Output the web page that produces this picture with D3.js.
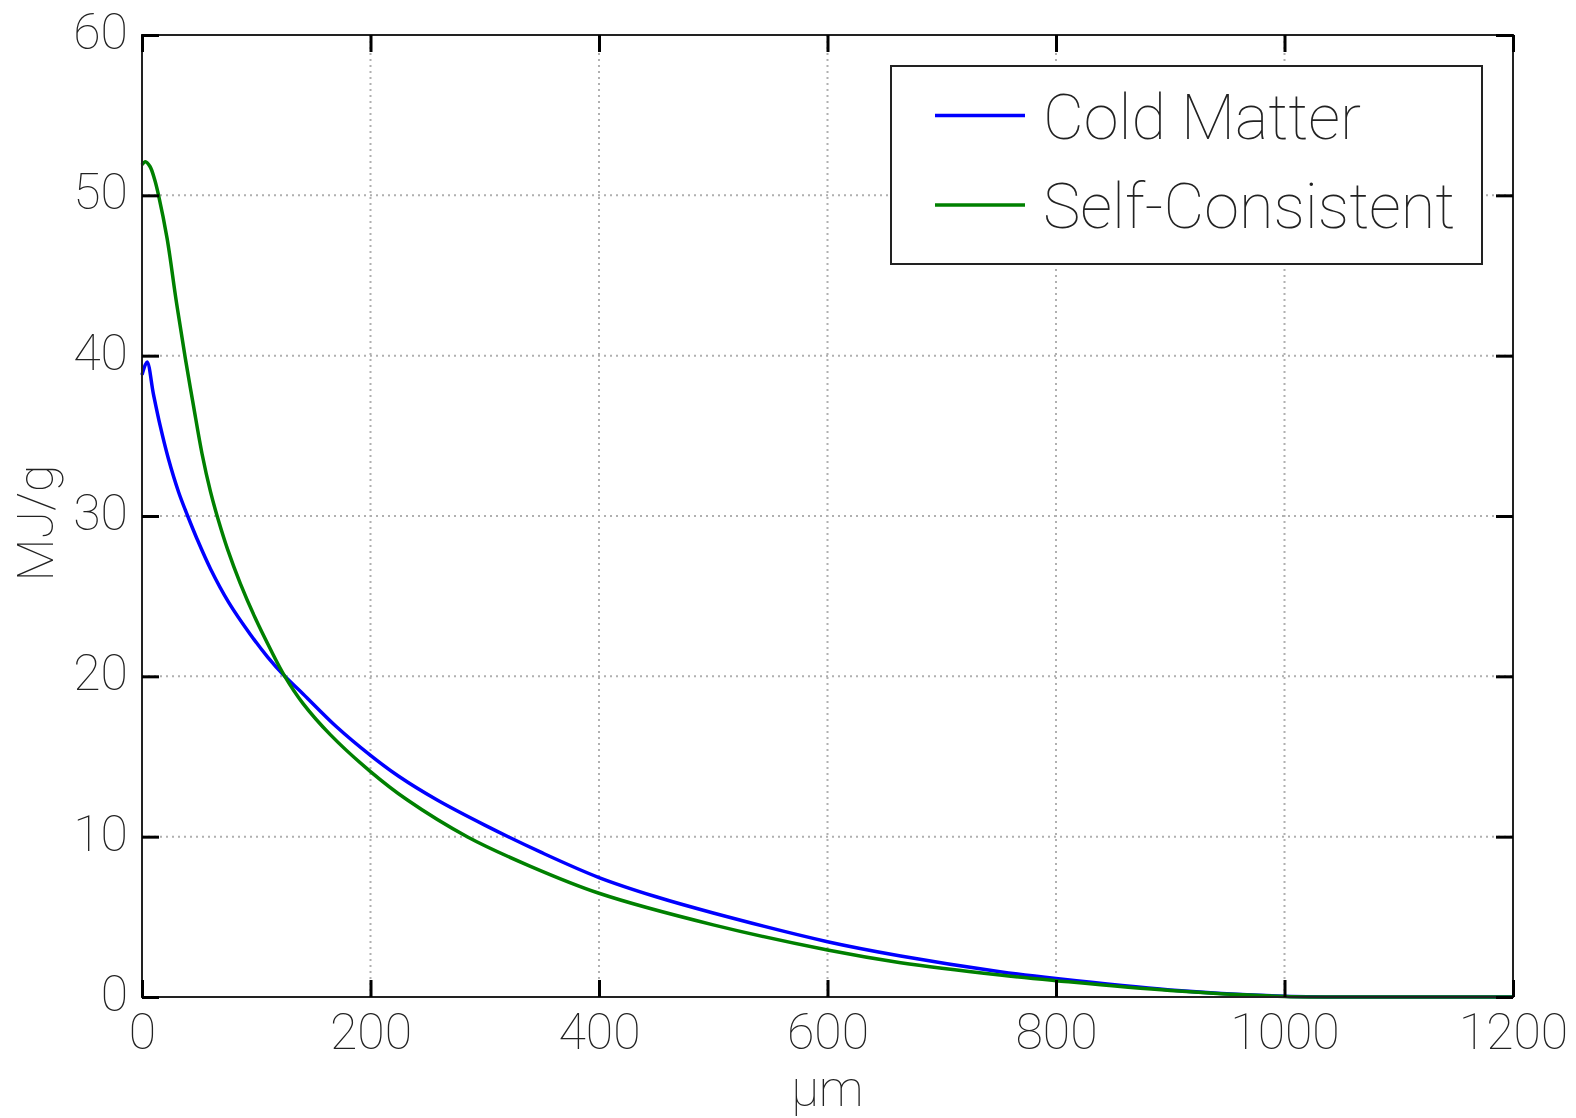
<!DOCTYPE html>
<html>
<head>
<meta charset="utf-8">
<script src="https://cdn.jsdelivr.net/npm/d3@7"></script>
<style>
  body { margin: 0; background: #fff; }
  svg text { font-family: Roboto, "Noto Sans", sans-serif; font-weight: 100; }
</style>
</head>
<body>
<div id="chart"></div>
<script>
// depth (um) and specific energy (MJ/g)
const coldX = [0, 4.4, 10, 16, 23, 32, 40, 48, 60, 76, 95, 110, 125, 141, 170, 200, 225, 258, 300, 350, 400, 450, 500, 600, 664, 751, 800, 900, 1000, 1100, 1200];
const coldY = [38.8, 39.6, 37.6, 35.6, 33.6, 31.5, 30.0, 28.6, 26.7, 24.6, 22.6, 21.2, 20.0, 18.9, 16.87, 15.07, 13.75, 12.3, 10.72, 9.0, 7.45, 6.25, 5.24, 3.45, 2.56, 1.58, 1.15, 0.44, 0.05, 0, 0];

const scX = [0, 3, 7, 11, 14.5, 22, 30, 38, 45, 52.5, 60, 67, 75, 86, 99, 112, 125, 141, 165, 200, 232, 285, 340, 400, 500, 600, 664, 751, 800, 900, 1000, 1100, 1200];
const scY = [51.9, 52.1, 51.8, 51.0, 50.0, 47.3, 43.4, 39.8, 36.9, 33.9, 31.5, 29.7, 27.9, 25.8, 23.65, 21.75, 20.0, 18.3, 16.35, 14.06, 12.3, 9.98, 8.15, 6.47, 4.5, 2.93, 2.14, 1.37, 1.02, 0.4, 0.03, 0, 0];

const xTicks = [0, 200, 400, 600, 800, 1000, 1200];
const yTicks = [0, 10, 20, 30, 40, 50, 60];
const seriesNames = ["Cold Matter", "Self-Consistent"];
const seriesColors = ["#0000ff", "#008000"];

function drawChart() {
    const W = 1576, H = 1118;
    const margin = {top: 35, right: 63, bottom: 121, left: 142},
        width = W - margin.left - margin.right,
        height = H - margin.top - margin.bottom;

    const svg = d3.select("#chart")
        .append("svg")
        .attr("width", W)
        .attr("height", H)
        .append("g")
        .attr("transform", "translate(" + margin.left + "," + margin.top + ")");

    const x = d3.scaleLinear().domain([0, 1200]).range([0, width]);
    const y = d3.scaleLinear().domain([0, 60]).range([height, 0]);

    // grid
    svg.append("g").selectAll("line.gx")
        .data(xTicks.slice(1, -1)).enter().append("line")
        .attr("x1", d => x(d)).attr("x2", d => x(d))
        .attr("y1", 0).attr("y2", height)
        .attr("stroke", "#b0b0b0").attr("stroke-width", 2)
        .attr("stroke-dasharray", "2,4");
    svg.append("g").selectAll("line.gy")
        .data(yTicks.slice(1, -1)).enter().append("line")
        .attr("x1", 0).attr("x2", width)
        .attr("y1", d => y(d)).attr("y2", d => y(d))
        .attr("stroke", "#b0b0b0").attr("stroke-width", 2)
        .attr("stroke-dasharray", "2,4");

    // curves
    const line = d3.line()
        .x(d => x(d[0]))
        .y(d => y(d[1]))
        .curve(d3.curveCatmullRom.alpha(0.5));
    const series = [d3.zip(coldX, coldY), d3.zip(scX, scY)];
    series.forEach(function(s, i) {
        svg.append("path")
            .datum(s)
            .attr("fill", "none")
            .attr("stroke", seriesColors[i])
            .attr("stroke-width", 3.5)
            .attr("stroke-linejoin", "round")
            .attr("d", line);
    });

    // frame
    svg.append("rect")
        .attr("width", width).attr("height", height)
        .attr("fill", "none").attr("stroke", "#222").attr("stroke-width", 2);

    // inward ticks on all four sides
    const tl = 17;
    const axB = d3.axisBottom(x).tickValues(xTicks).tickSize(-tl).tickPadding(16).tickFormat(d3.format("d"));
    const axT = d3.axisTop(x).tickValues(xTicks).tickSize(-tl).tickFormat("");
    const axL = d3.axisLeft(y).tickValues(yTicks).tickSize(-tl).tickPadding(14);
    const axR = d3.axisRight(y).tickValues(yTicks).tickSize(-tl).tickFormat("");

    const gB = svg.append("g").attr("transform", "translate(0," + height + ")").call(axB);
    const gT = svg.append("g").call(axT);
    const gL = svg.append("g").call(axL);
    const gR = svg.append("g").attr("transform", "translate(" + width + ",0)").call(axR);

    [gB, gT, gL, gR].forEach(function(g) {
        g.select(".domain").remove();
        g.selectAll(".tick line").attr("stroke", "#000").attr("stroke-width", 3);
        g.selectAll("text")
            .attr("font-family", null)
            .style("font-size", "50px")
            .attr("fill", "#222");
    });
    gB.selectAll("text").attr("dy", "0.71em");
    gL.selectAll("text").attr("dy", "0.27em");

    // axis labels
    svg.append("text")
        .attr("text-anchor", "middle")
        .attr("x", x(600))
        .attr("y", height + 109)
        .attr("fill", "#222")
        .style("font-size", "50px")
        .text("μm");

    svg.append("text")
        .attr("text-anchor", "middle")
        .attr("transform", "rotate(-90)")
        .attr("x", -(523 - margin.top))
        .attr("y", 53 - margin.left)
        .attr("fill", "#222")
        .style("font-size", "50px")
        .text("MJ/g");

    // legend
    const lg = svg.append("g").attr("transform", "translate(" + (891 - margin.left) + "," + (66 - margin.top) + ")");
    lg.append("rect")
        .attr("width", 591).attr("height", 198)
        .attr("fill", "#fff").attr("stroke", "#222").attr("stroke-width", 2);
    seriesNames.forEach(function(name, i) {
        const cy = 49.5 + i * 89.5;
        lg.append("line")
            .attr("x1", 44).attr("x2", 134)
            .attr("y1", cy).attr("y2", cy)
            .attr("stroke", seriesColors[i]).attr("stroke-width", 3.5);
        lg.append("text")
            .attr("x", 152)
            .attr("y", cy + 23)
            .attr("fill", "#222")
            .style("font-size", "63px")
            .text(name);
    });
}

drawChart();
</script>
</body>
</html>
